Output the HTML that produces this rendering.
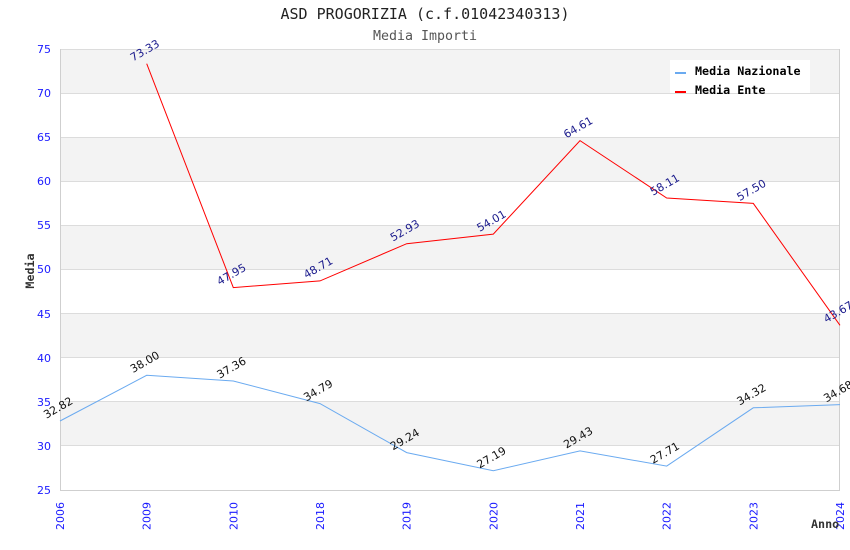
<!DOCTYPE html>
<html><head><meta charset="utf-8"><style>
html,body{margin:0;padding:0;background:#fff;}
svg{display:block;}
.t{font-family:"DejaVu Sans Mono","Liberation Mono",monospace;}
.s{font-family:"DejaVu Sans","Liberation Sans",sans-serif;}
</style></head><body>
<svg width="850" height="550" viewBox="0 0 850 550" xmlns="http://www.w3.org/2000/svg">
<rect width="850" height="550" fill="#fff"/>
<text class="t" x="425" y="19" text-anchor="middle" font-size="15" fill="#222">ASD PROGORIZIA (c.f.01042340313)</text>
<text class="t" x="425" y="40" text-anchor="middle" font-size="13.3" fill="#555">Media Importi</text>
<!-- bands -->
<g fill="#f3f3f3">
<rect x="60" y="49" width="780" height="44.1"/>
<rect x="60" y="137.2" width="780" height="44.1"/>
<rect x="60" y="225.4" width="780" height="44.1"/>
<rect x="60" y="313.6" width="780" height="44.1"/>
<rect x="60" y="401.8" width="780" height="44.1"/>
</g>
<g stroke="#dcdcdc" stroke-width="1">
<line x1="60" y1="49.5" x2="840" y2="49.5"/>
<line x1="60" y1="93.5" x2="840" y2="93.5"/>
<line x1="60" y1="137.5" x2="840" y2="137.5"/>
<line x1="60" y1="181.5" x2="840" y2="181.5"/>
<line x1="60" y1="225.5" x2="840" y2="225.5"/>
<line x1="60" y1="269.5" x2="840" y2="269.5"/>
<line x1="60" y1="313.5" x2="840" y2="313.5"/>
<line x1="60" y1="357.5" x2="840" y2="357.5"/>
<line x1="60" y1="401.5" x2="840" y2="401.5"/>
<line x1="60" y1="445.5" x2="840" y2="445.5"/>
</g>
<g stroke="#cfcfcf" stroke-width="1" fill="none">
<line x1="60.5" y1="49" x2="60.5" y2="490"/>
<line x1="839.5" y1="49" x2="839.5" y2="490"/>
<line x1="60" y1="490.5" x2="840" y2="490.5"/>
</g>
<!-- y ticks -->
<g class="s" font-size="11" fill="#1a1aff" text-anchor="end">
<text x="51" y="53">75</text>
<text x="51" y="97">70</text>
<text x="51" y="141">65</text>
<text x="51" y="185">60</text>
<text x="51" y="229">55</text>
<text x="51" y="273">50</text>
<text x="51" y="318">45</text>
<text x="51" y="362">40</text>
<text x="51" y="406">35</text>
<text x="51" y="450">30</text>
<text x="51" y="494">25</text>
</g>
<!-- x ticks -->
<g class="s" font-size="11" fill="#1a1aff" text-anchor="end">
<text transform="translate(64,502) rotate(-90)">2006</text>
<text transform="translate(150.7,502) rotate(-90)">2009</text>
<text transform="translate(237.3,502) rotate(-90)">2010</text>
<text transform="translate(324,502) rotate(-90)">2018</text>
<text transform="translate(410.7,502) rotate(-90)">2019</text>
<text transform="translate(497.3,502) rotate(-90)">2020</text>
<text transform="translate(584,502) rotate(-90)">2021</text>
<text transform="translate(670.7,502) rotate(-90)">2022</text>
<text transform="translate(757.3,502) rotate(-90)">2023</text>
<text transform="translate(844,502) rotate(-90)">2024</text>
</g>
<text class="t" font-weight="bold" font-size="11.7" fill="#333" transform="translate(34,271) rotate(-90)" text-anchor="middle">Media</text>
<text class="t" font-weight="bold" font-size="11.7" fill="#333" x="811" y="528">Anno</text>
<!-- series -->
<polyline fill="none" stroke="#6aaaf0" stroke-width="1" points="60,421 146.7,375.3 233.3,381 320,403.6 406.7,452.6 493.3,470.7 580,450.9 666.7,466.1 753.3,407.8 840,404.6"/>
<polyline fill="none" stroke="#ff0000" stroke-width="1" points="146.7,63.7 233.3,287.6 320,280.9 406.7,243.7 493.3,234.1 580,140.6 666.7,198 753.3,203.4 840,325.3"/>
<!-- labels red -->
<g class="s" font-size="11" fill="#1a1a8c" text-anchor="middle">
<text transform="translate(146.7,53.7) rotate(-30)">73.33</text>
<text transform="translate(233.3,277.6) rotate(-30)">47.95</text>
<text transform="translate(320,270.9) rotate(-30)">48.71</text>
<text transform="translate(406.7,233.7) rotate(-30)">52.93</text>
<text transform="translate(493.3,224.1) rotate(-30)">54.01</text>
<text transform="translate(580,130.6) rotate(-30)">64.61</text>
<text transform="translate(666.7,188) rotate(-30)">58.11</text>
<text transform="translate(753.3,193.4) rotate(-30)">57.50</text>
<text transform="translate(840,315.3) rotate(-30)">43.67</text>
</g>
<g class="s" font-size="11" fill="#111" text-anchor="middle">
<text transform="translate(60,411) rotate(-30)">32.82</text>
<text transform="translate(146.7,365.3) rotate(-30)">38.00</text>
<text transform="translate(233.3,371) rotate(-30)">37.36</text>
<text transform="translate(320,393.6) rotate(-30)">34.79</text>
<text transform="translate(406.7,442.6) rotate(-30)">29.24</text>
<text transform="translate(493.3,460.7) rotate(-30)">27.19</text>
<text transform="translate(580,440.9) rotate(-30)">29.43</text>
<text transform="translate(666.7,456.1) rotate(-30)">27.71</text>
<text transform="translate(753.3,397.8) rotate(-30)">34.32</text>
<text transform="translate(840,394.6) rotate(-30)">34.68</text>
</g>
<!-- legend -->
<rect x="670" y="60" width="140" height="33" fill="#fff"/>
<line x1="675" y1="73" x2="686" y2="73" stroke="#6aaaf0" stroke-width="2"/>
<line x1="675" y1="92" x2="686" y2="92" stroke="#ff0000" stroke-width="2"/>
<g class="t" font-weight="bold" font-size="11.7" fill="#000">
<text x="695" y="75">Media Nazionale</text>
<text x="695" y="94">Media Ente</text>
</g>
</svg>
</body></html>
